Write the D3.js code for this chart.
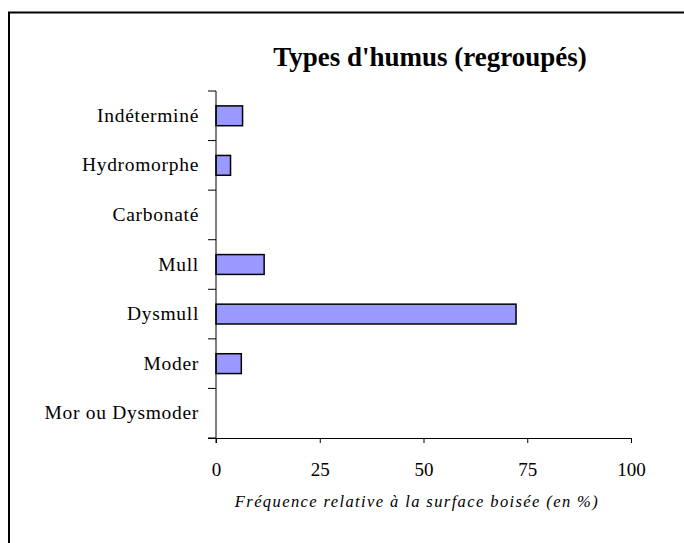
<!DOCTYPE html>
<html><head><meta charset="utf-8">
<script src="https://cdn.jsdelivr.net/npm/d3@7"></script>
<style>body{margin:0;background:#fff}svg{display:block}text{font-family:"Liberation Serif","Times New Roman",serif;fill:#000}</style>
</head><body><svg id="c" width="684" height="543"></svg>
<script>
const categories = ["Indéterminé","Hydromorphe","Carbonaté","Mull","Dysmull","Moder","Mor ou Dysmoder"];
const values = [6.4, 3.5, 0, 11.6, 72.3, 6.1, 0];
const xTicks = [0,25,50,75,100];

const svg = d3.select("#c");
svg.append("rect").attr("x",9).attr("y",12.5).attr("width",700).attr("height",560)
  .attr("fill","#fff").attr("stroke","#000").attr("stroke-width",2);

const x = d3.scaleLinear().domain([0,100]).range([216,631]);
const y = d3.scaleBand().domain(categories).range([91,438]).paddingInner(0.6).paddingOuter(0.3);

svg.append("text").attr("x",430).attr("y",66).attr("text-anchor","middle")
  .attr("font-size",27).attr("font-weight","bold").text("Types d'humus (regroupés)");

// bars
svg.append("g").selectAll("rect").data(categories).join("rect")
  .attr("x",x(0)).attr("y",d=>y(d)).attr("height",y.bandwidth())
  .attr("width",(d,i)=>x(values[i])-x(0))
  .attr("fill","#9999ff").attr("stroke","#000").attr("stroke-width",1.5)
  .attr("display",(d,i)=>values[i]>0?null:"none");

// y axis
const yb = d3.scaleBand().domain(categories).range([91,438]);
const ya = svg.append("g");
ya.append("line").attr("x1",216).attr("x2",216).attr("y1",91).attr("y2",443).attr("stroke","#000");
ya.selectAll("line.t").data(d3.range(categories.length+1)).join("line").attr("class","t")
  .attr("x1",208).attr("x2",216).attr("y1",i=>91+i*yb.step()).attr("y2",i=>91+i*yb.step()).attr("stroke","#000");
ya.selectAll("text").data(categories).join("text")
  .attr("x",199).attr("y",d=>yb(d)+yb.bandwidth()/2+6).attr("text-anchor","end")
  .attr("font-size",19.5).attr("letter-spacing",0.7).text(d=>d);

// x axis
const xa = svg.append("g").attr("transform","translate(0,438)")
  .call(d3.axisBottom(x).tickValues(xTicks).tickSize(5).tickSizeOuter(0).tickPadding(20));
xa.select(".domain").attr("d","M208,0.5H631");
xa.selectAll("text").attr("font-size",19).attr("font-family","Liberation Serif, serif").attr("fill","#000");
xa.selectAll("line").attr("stroke","#000");

svg.append("text").attr("x",417).attr("y",507).attr("text-anchor","middle")
  .attr("font-size",16.5).attr("letter-spacing",1.4).attr("font-style","italic").text("Fréquence relative à la surface boisée (en %)");
</script></body></html>
